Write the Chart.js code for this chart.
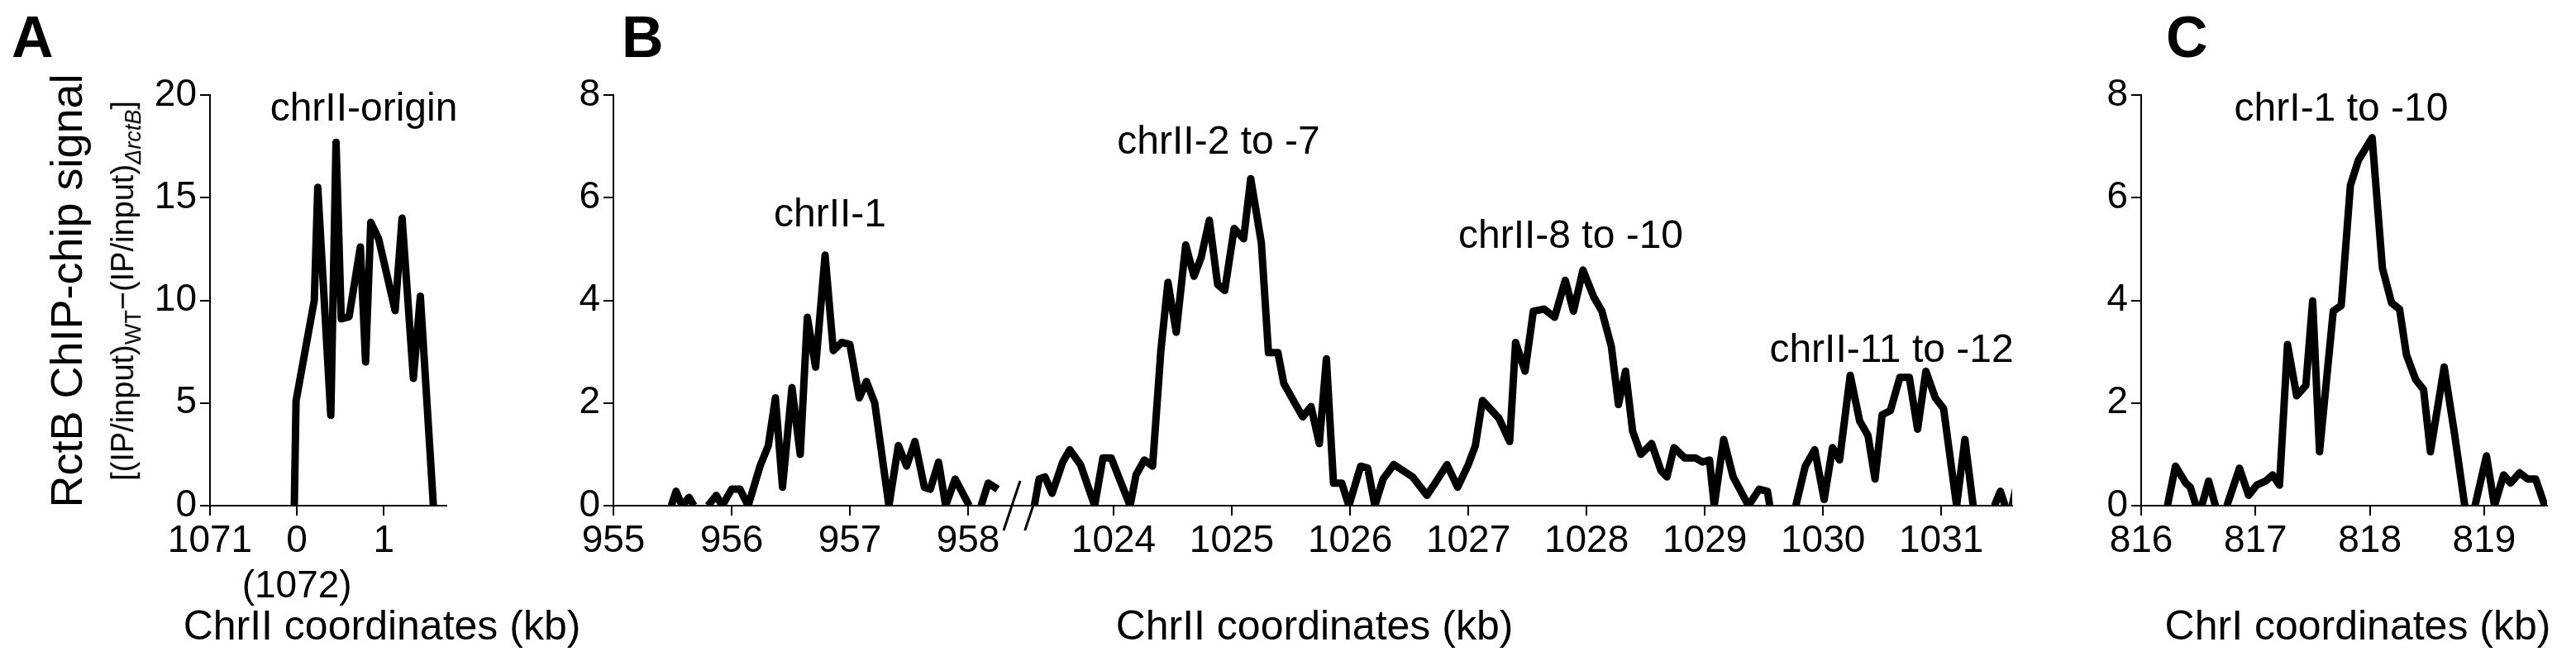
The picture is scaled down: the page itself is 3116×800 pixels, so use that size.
<!DOCTYPE html>
<html>
<head>
<meta charset="utf-8">
<script src="https://cdn.jsdelivr.net/npm/chart.js@4.4.1/dist/chart.umd.min.js"></script>
<style>
  body { margin: 0; background: #fff; width: 3116px; height: 800px; position: relative; overflow: hidden;
         font-family: "Liberation Sans", Arial, sans-serif; color: #000; }
  .box { position: absolute; }
  .txt { position: absolute; white-space: nowrap; line-height: 1; }
  .letter { font-weight: bold; font-size: 70px; }
  .title { font-size: 50px; transform: translateX(-50%); }
  .peak { font-size: 48px; transform: translateX(-50%); }
  .ylab { transform-origin: center; transform: translate(-50%, -50%) rotate(-90deg); }
</style>
</head>
<body>
<div class="box" style="left:160px;top:0;width:400px;height:760px"><canvas id="chartA"></canvas></div>
<div class="box" style="left:640px;top:0;width:1810px;height:700px"><canvas id="chartB"></canvas></div>
<div class="box" style="left:2490px;top:0;width:620px;height:700px"><canvas id="chartC"></canvas></div>

<div class="txt letter" style="left:14px;top:10px">A</div>
<div class="txt letter" style="left:752px;top:10px">B</div>
<div class="txt letter" style="left:2620px;top:10px">C</div>

<div class="txt ylab" style="left:80px;top:352px;font-size:54px">RctB ChIP-chip signal</div>
<div class="txt ylab" style="left:152px;top:352px;font-size:38px">[(IP/input)<sub style="font-size:27px">WT</sub>&minus;(IP/input)<sub style="font-size:27px"><i>&Delta;rctB</i></sub>]</div>

<div class="txt title" style="left:462px;top:732px">ChrII coordinates (kb)</div>
<div class="txt title" style="left:1590px;top:732px">ChrII coordinates (kb)</div>
<div class="txt title" style="left:2852px;top:732px">ChrI coordinates (kb)</div>

<div class="txt peak" style="left:440px;top:106px">chrII-origin</div>
<div class="txt peak" style="left:1004px;top:234px">chrII-1</div>
<div class="txt peak" style="left:1474px;top:146px">chrII-2 to -7</div>
<div class="txt peak" style="left:1900px;top:260px">chrII-8 to -10</div>
<div class="txt peak" style="left:2288px;top:398px">chrII-11 to -12</div>
<div class="txt peak" style="left:2832px;top:106px">chrI-1 to -10</div>

<script>
// Panel A: chrII origin, x relative to 1072 kb
const originKb = [-0.03, -0.01, 0.2, 0.24, 0.39, 0.45, 0.51, 0.6, 0.73, 0.79, 0.85, 0.94, 1.13, 1.21, 1.34, 1.42, 1.57];
const originSignal = [0, 5.1, 10, 15.5, 4.4, 17.7, 9.1, 9.2, 12.6, 7.0, 13.8, 13.0, 9.5, 14.0, 6.2, 10.2, 0];
const ticksA = [-1, 0, 1];
const tickLabelsA = ['1071', ['0', '(1072)'], '1'];

// Panel B: chrII 955-958 and 1023-1032 kb (null = gap)
const chr2Kb = [955.49, 955.53, 955.58, 955.64, 955.68, null,
  955.8, 955.87, 955.92, 956.0, 956.07, 956.14, 956.24, 956.31, 956.37, 956.43, 956.51, 956.58, 956.64, 956.71,
  956.79, 956.86, 956.93, 957.0, 957.08, 957.14, 957.21, 957.33, 957.41, 957.48, 957.55, 957.63, 957.68, 957.75,
  957.81, 957.89, 958.01, null, 958.11, 958.17, 958.25, null,
  1023.33, 1023.37, 1023.42, 1023.48, 1023.57, 1023.63, 1023.72, 1023.84, 1023.91, 1023.98, 1024.05, 1024.14,
  1024.19, 1024.26, 1024.33, 1024.4, 1024.46, 1024.53, 1024.61, 1024.68, 1024.74, 1024.81, 1024.88, 1024.94,
  1025.02, 1025.1, 1025.16, 1025.25, 1025.31, 1025.39, 1025.44, 1025.54, 1025.6, 1025.67, 1025.74, 1025.8,
  1025.86, 1025.93, 1025.99, 1026.09, 1026.15, 1026.21, 1026.28, 1026.37, 1026.45, 1026.53, 1026.65, 1026.72,
  1026.82, 1026.91, 1027.0, 1027.06, 1027.12, 1027.26, 1027.35, 1027.4, 1027.48, 1027.55, 1027.64, 1027.73,
  1027.82, 1027.89, 1027.97, 1028.06, 1028.13, 1028.21, 1028.27, 1028.33, 1028.39, 1028.46, 1028.55, 1028.63,
  1028.68, 1028.74, 1028.83, 1028.92, 1028.98, 1029.04, 1029.08, 1029.16, 1029.24, 1029.37, 1029.46, 1029.53,
  1029.55, null,
  1029.77, 1029.85, 1029.93, 1030.01, 1030.08, 1030.14, 1030.23, 1030.31, 1030.38, 1030.44, 1030.5, 1030.57,
  1030.65, 1030.73, 1030.8, 1030.87, 1030.95, 1031.02, 1031.13, 1031.2, 1031.27, null,
  1031.45, 1031.5, 1031.54, null, 1031.6, 1031.64];
const chr2Signal = [0, 0.28, 0, 0.16, 0, null,
  0, 0.2, 0, 0.32, 0.32, 0, 0.77, 1.17, 2.1, 0.36, 2.3, 1.0, 3.67, 2.7,
  4.88, 3.02, 3.18, 3.14, 2.1, 2.42, 2.0, 0, 1.17, 0.77, 1.25, 0.36, 0.32, 0.85,
  0, 0.52, 0, null, 0, 0.44, 0.32, null,
  0, 0.52, 0.56, 0.24, 0.85, 1.09, 0.8, 0, 0.93, 0.93, 0.52, 0,
  0.6, 0.89, 0.77, 3.02, 4.35, 3.38, 5.08, 4.47, 4.83, 5.56, 4.31, 4.19,
  5.4, 5.2, 6.37, 5.12, 2.98, 2.98, 2.38, 1.97, 1.73, 1.93, 1.21, 2.86,
  0.44, 0.44, 0, 0.77, 0.73, 0, 0.52, 0.8, 0.68, 0.56, 0.2, 0.44,
  0.8, 0.36, 0.8, 1.17, 2.05, 1.7, 1.25, 3.18, 2.62, 3.79, 3.83, 3.67,
  4.39, 3.79, 4.59, 4.07, 3.79, 3.1, 1.97, 2.62, 1.45, 1.0, 1.21, 0.68,
  0.56, 1.13, 0.93, 0.93, 0.85, 0.89, 0, 1.29, 0.56, 0, 0.32, 0.28,
  0, null,
  0, 0.77, 1.09, 0.12, 1.13, 0.89, 2.54, 1.65, 1.37, 0.52, 1.77, 1.85,
  2.5, 2.5, 1.49, 2.62, 2.1, 1.89, 0, 1.29, 0, null,
  0, 0.28, 0, null, 0, 0.44];
const ticksB = [955, 956, 957, 958, 1024, 1025, 1026, 1027, 1028, 1029, 1030, 1031];
const breakShift = 64.77;   // kb removed by the axis break

// Panel C: chrI
const chr1Kb = [816.23, 816.3, 816.39, 816.43, 816.48, 816.53, 816.59, 816.65, null, 816.75, 816.86, 816.94,
  817.01, 817.09, 817.15, 817.21, 817.28, 817.36, 817.44, 817.5, 817.56, 817.68, 817.75, 817.83, 817.9, 818.02,
  818.11, 818.19, 818.26, 818.32, 818.4, 818.47, 818.53, 818.65, 818.74, 818.83, null, 818.92, 819.02, 819.09,
  819.17, 819.23, 819.31, 819.38, 819.45, 819.53];
const chr1Signal = [0, 0.77, 0.44, 0.36, 0, 0, 0.48, 0, null, 0, 0.73, 0.2,
  0.4, 0.48, 0.6, 0.4, 3.14, 2.14, 2.34, 3.99, 1.05, 3.79, 3.9, 6.24, 6.73, 7.17,
  4.63, 3.95, 3.83, 2.94, 2.46, 2.26, 1.05, 2.7, 1.41, 0, null, 0, 0.97, 0,
  0.6, 0.44, 0.64, 0.52, 0.52, 0];
const ticksSmall = [0, 2, 4, 6, 8];
const ticksLarge = [0, 5, 10, 15, 20];

const FONT = 'Liberation Sans';
const TICK_FONT = { family: FONT, size: 46 };

function toPoints(xs, ys, mapX) {
  return xs.map(function (x, i) {
    return x === null ? { x: null, y: null } : { x: mapX ? mapX(x) : x, y: ys[i] };
  });
}
function breakX(kb) { return kb > 990 ? kb - breakShift : kb; }

function axes(xCfg, yCfg, yWidth, xHeight) {
  return {
    x: Object.assign({
      type: 'linear',
      grid: { drawOnChartArea: false, drawTicks: true, tickLength: 12, color: '#000', lineWidth: 2 },
      border: { color: '#000', width: 2 },
      afterFit: function (s) { s.height = xHeight; }
    }, xCfg),
    y: Object.assign({
      type: 'linear',
      grid: { drawOnChartArea: false, drawTicks: true, tickLength: 12, color: '#000', lineWidth: 2 },
      border: { color: '#000', width: 2 },
      ticks: { font: TICK_FONT, color: '#000', padding: 4 },
      afterFit: function (s) { s.width = yWidth; }
    }, yCfg)
  };
}

function setTicks(list) {
  return function (s) { s.ticks = list.map(function (v) { return { value: v }; }); };
}

const breakMarks = {
  id: 'breakMarks',
  afterDraw: function (chart) {
    if (chart.canvas.id !== 'chartB') return;
    const ctx = chart.ctx, xs = chart.scales.x, ys = chart.scales.y;
    const y0 = ys.getPixelForValue(0);
    ctx.save();
    ctx.strokeStyle = '#000';
    ctx.lineWidth = 3;
    [958.37, 958.55].forEach(function (v) {
      const px = xs.getPixelForValue(v);
      ctx.beginPath();
      ctx.moveTo(px - 10, y0 + 30);
      ctx.lineTo(px + 10, y0 - 30);
      ctx.stroke();
    });
    ctx.restore();
  }
};

function makeChart(id, points, scales, padRight) {
  return new Chart(document.getElementById(id), {
    type: 'line',
    data: { datasets: [{ data: points, borderColor: '#000', borderWidth: 9, pointRadius: 0,
      tension: 0, spanGaps: false, borderJoinStyle: 'round' }] },
    options: {
      responsive: true, maintainAspectRatio: false, animation: false,
      layout: { padding: { top: 115, right: padRight, left: 0, bottom: 0 } },
      plugins: { legend: { display: false }, tooltip: { enabled: false } },
      scales: scales
    },
    plugins: [breakMarks]
  });
}

makeChart('chartA', toPoints(originKb, originSignal),
  axes({ min: -1, max: 1.72, afterBuildTicks: setTicks(ticksA),
         ticks: { font: TICK_FONT, color: '#000', padding: 4, maxRotation: 0, autoSkip: false,
                  callback: function (v) { return tickLabelsA[ticksA.indexOf(v)]; } } },
       { min: 0, max: 20, afterBuildTicks: setTicks(ticksLarge) }, 94, 148), 20);

makeChart('chartB', toPoints(chr2Kb, chr2Signal, breakX),
  axes({ min: 955, max: 966.83, afterBuildTicks: setTicks(ticksB.map(breakX)),
         ticks: { font: TICK_FONT, color: '#000', padding: 4, maxRotation: 0, autoSkip: false,
                  callback: function (v) { return String(Math.round(v > 958.5 ? v + breakShift : v)); } } },
       { min: 0, max: 8, afterBuildTicks: setTicks(ticksSmall) }, 102, 88), 16);

makeChart('chartC', toPoints(chr1Kb, chr1Signal),
  axes({ min: 816, max: 819.55, afterBuildTicks: setTicks([816, 817, 818, 819]),
         ticks: { font: TICK_FONT, color: '#000', padding: 4, maxRotation: 0, autoSkip: false } },
       { min: 0, max: 8, afterBuildTicks: setTicks(ticksSmall) }, 100, 88), 29);
</script>
</body>
</html>
